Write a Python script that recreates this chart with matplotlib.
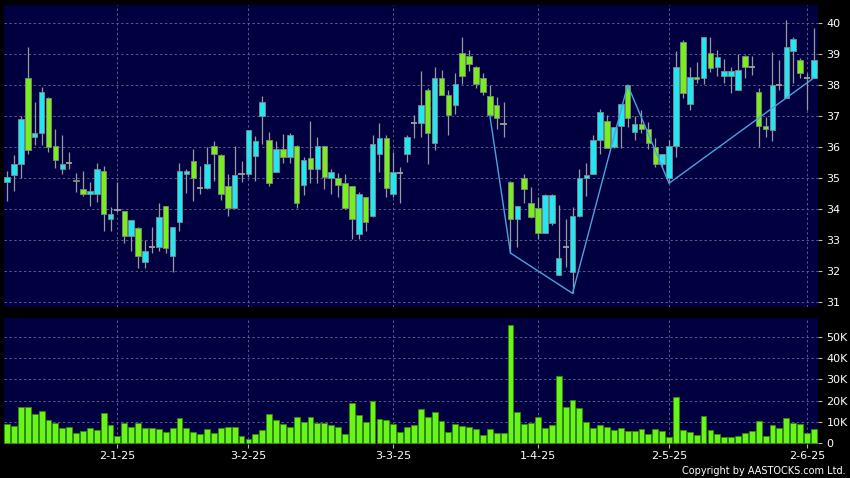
import matplotlib
matplotlib.use("Agg")
import matplotlib.pyplot as plt
import numpy as np

# daily bars, oldest first (price in HKD, volume in thousands)
opens = [34.86, 35.10, 35.45, 38.23, 36.31, 36.45, 37.58, 36.03, 35.29, 35.47,
         34.94, 34.65, 34.48, 34.48, 35.23, 33.68, 33.98, 33.94, 33.13, 33.39,
         32.28, 32.76, 32.76, 34.10, 32.48, 33.59, 35.13, 35.56, 34.67, 34.67,
         36.03, 35.74, 34.74, 34.03, 35.13, 35.13, 35.70, 37.01, 36.23, 35.20,
         35.94, 35.69, 36.02, 34.77, 35.65, 35.29, 36.02, 35.00, 35.00, 34.83,
         34.73, 33.19, 34.38, 33.76, 35.77, 36.29, 34.48, 35.16, 35.77, 36.76,
         36.77, 37.84, 36.13, 38.23, 37.68, 37.35, 39.03, 38.95, 38.59, 38.23,
         37.63, 37.35, 36.74, 34.86, 33.68, 34.99, 34.19, 34.03, 33.23, 33.55,
         31.88, 32.76, 31.96, 33.76, 35.00, 35.13, 36.23, 36.83, 36.01, 36.67,
         38.00, 36.47, 36.74, 36.58, 35.99, 35.45, 34.99, 36.02, 39.38, 37.39,
         38.27, 38.23, 39.02, 38.59, 38.28, 38.28, 37.84, 38.95, 38.57, 37.76,
         36.69, 36.56, 38.00, 37.58, 39.11, 38.81, 38.23, 38.23, 38.68]
highs = [35.24, 35.75, 37.01, 39.22, 37.46, 37.95, 37.60, 36.59, 36.40, 35.85,
         35.15, 35.24, 34.86, 35.48, 35.40, 34.08, 34.88, 33.95, 33.66, 33.41,
         33.00, 33.41, 34.21, 34.11, 33.43, 35.48, 35.29, 35.94, 35.40, 36.01,
         36.20, 35.77, 35.13, 36.02, 35.56, 36.56, 36.34, 37.66, 36.47, 36.20,
         36.42, 36.45, 36.05, 35.67, 36.85, 36.31, 36.03, 35.29, 35.15, 35.13,
         34.75, 34.54, 34.39, 36.39, 36.77, 36.39, 35.83, 35.34, 36.40, 37.03,
         38.46, 37.90, 38.57, 38.49, 37.84, 38.38, 39.56, 39.13, 38.60, 38.38,
         38.00, 37.60, 37.46, 34.90, 34.10, 35.13, 34.70, 34.38, 34.48, 34.48,
         34.14, 33.68, 34.05, 35.29, 35.47, 36.40, 37.23, 37.03, 36.65, 37.40,
         38.00, 37.01, 37.20, 36.80, 36.29, 35.78, 36.23, 39.11, 39.45, 38.57,
         38.75, 39.55, 39.54, 39.13, 38.84, 38.57, 39.00, 38.96, 38.95, 37.90,
         36.96, 39.05, 38.80, 40.11, 39.56, 38.87, 38.38, 39.84, 38.81]
lows = [34.27, 34.57, 35.00, 35.77, 36.08, 36.08, 35.83, 35.31, 35.13, 35.29,
        34.54, 34.43, 34.09, 34.22, 33.30, 33.30, 33.89, 32.92, 32.66, 32.09,
        32.09, 32.58, 32.63, 32.58, 31.96, 33.30, 34.51, 34.27, 34.48, 34.66,
        34.91, 34.29, 33.78, 34.02, 34.86, 35.02, 34.91, 36.10, 34.75, 35.19,
        35.47, 35.50, 34.03, 34.45, 34.83, 34.83, 34.65, 34.48, 34.38, 34.00,
        33.03, 33.03, 33.30, 33.75, 35.18, 34.38, 34.38, 34.19, 35.53, 36.29,
        36.31, 35.45, 35.91, 37.68, 36.39, 37.06, 38.03, 38.46, 37.90, 37.68,
        37.03, 36.58, 36.31, 32.58, 32.76, 34.19, 33.70, 33.03, 33.22, 33.50,
        31.88, 32.12, 31.28, 33.75, 34.43, 35.12, 35.77, 35.96, 35.96, 35.96,
        36.64, 36.23, 36.44, 35.94, 35.34, 35.32, 34.83, 35.67, 37.58, 37.20,
        38.08, 38.03, 38.41, 38.30, 38.08, 37.73, 37.83, 38.23, 38.33, 35.99,
        36.31, 36.20, 37.85, 37.57, 38.08, 38.23, 37.19, 38.22, 38.23]
closes = [35.04, 35.45, 36.90, 35.90, 36.45, 37.77, 36.01, 35.58, 35.45, 35.47,
          34.90, 34.48, 34.57, 35.29, 33.84, 33.84, 33.98, 33.13, 33.65, 32.47,
          32.65, 32.76, 33.74, 32.74, 33.42, 35.23, 35.23, 35.00, 34.67, 35.45,
          35.77, 34.48, 34.03, 35.10, 35.13, 36.55, 36.19, 37.46, 34.83, 35.94,
          35.69, 36.39, 34.19, 35.58, 35.29, 36.02, 35.04, 35.18, 34.78, 34.03,
          33.68, 34.48, 33.59, 36.10, 36.29, 34.67, 35.18, 35.16, 36.31, 36.76,
          37.35, 36.45, 38.23, 37.68, 37.03, 38.03, 38.28, 38.68, 38.03, 37.78,
          37.03, 36.94, 36.74, 33.68, 34.09, 34.65, 33.73, 33.23, 34.45, 34.45,
          32.42, 32.76, 33.78, 34.99, 35.11, 36.23, 37.12, 35.96, 36.63, 37.39,
          36.94, 36.74, 36.58, 36.13, 35.45, 35.77, 36.02, 38.57, 37.74, 38.27,
          38.19, 39.54, 38.55, 38.89, 38.44, 38.44, 38.48, 38.57, 38.57, 36.67,
          36.58, 38.00, 38.00, 39.22, 39.48, 38.39, 38.23, 38.81, 38.55]
volume_k = [8.9, 8.1, 17.2, 17.0, 13.9, 15.2, 10.9, 9.7, 7.2, 7.5,
            4.7, 5.8, 7.2, 6.3, 14.1, 8.4, 3.6, 9.5, 7.8, 9.4,
            7.2, 7.2, 6.7, 5.2, 7.2, 11.7, 7.3, 5.5, 4.2, 6.6,
            4.8, 7.0, 7.7, 7.8, 3.4, 2.0, 4.5, 6.4, 13.6, 10.8,
            9.2, 7.8, 12.2, 10.0, 12.2, 9.4, 9.5, 8.4, 7.7, 4.5,
            18.9, 13.1, 10.2, 20.0, 11.6, 10.9, 8.9, 5.3, 7.7, 8.6,
            16.1, 12.5, 14.7, 10.5, 5.2, 8.9, 8.3, 7.7, 6.7, 4.1,
            6.7, 5.0, 4.8, 55.5, 14.7, 9.1, 9.5, 12.3, 7.3, 8.6,
            31.4, 17.0, 20.3, 16.7, 9.8, 7.0, 8.6, 7.7, 6.4, 7.0,
            5.9, 5.6, 6.7, 4.4, 6.7, 5.6, 3.0, 21.6, 6.1, 5.5,
            3.9, 12.8, 6.1, 4.2, 2.8, 3.0, 3.6, 4.8, 5.9, 10.3,
            3.3, 8.6, 7.0, 11.7, 9.7, 9.1, 4.8, 6.7, 1.3]

# zigzag overlay: bar index and price of each turning point
zigzag_idx = [70, 73, 82, 90, 96, 117]
zigzag_px = [37.03, 32.58, 31.28, 38.00, 34.83, 38.23]

date_idx = [16, 35, 56, 77, 96, 116]
date_labels = ["2-1-25", "3-2-25", "3-3-25", "1-4-25", "2-5-25", "2-6-25"]

price_ticks = [31, 32, 33, 34, 35, 36, 37, 38, 39, 40]
vol_ticks = [0, 10, 20, 30, 40, 50]

BG = "#000040"
GRID = "#5a5a86"
UP = "#22e6f2"
DOWN = "#78ee1e"
VOL = "#6af51a"

o = np.array(opens)
h = np.array(highs)
l = np.array(lows)
c = np.array(closes)
x = np.arange(len(o))

fig = plt.figure(figsize=(8.5, 4.78), dpi=100, facecolor="black")
ax = fig.add_axes([4 / 850, 1 - 307 / 478, 814 / 850, 302 / 478])
ax2 = fig.add_axes([4 / 850, 1 - 444 / 478, 814 / 850, 126 / 478])

for a in (ax, ax2):
    a.set_facecolor(BG)
    for s in a.spines.values():
        s.set_visible(False)
    a.set_xlim(-0.45, 117.6)
    a.set_xticks(date_idx)
    a.grid(True, color=GRID, linestyle=(0, (2.5, 2.5)), linewidth=0.7)
    a.set_axisbelow(True)
    a.yaxis.tick_right()
    a.tick_params(axis="y", direction="out", length=3, width=0.8,
                  color="#bbbbbb", labelcolor="white", labelsize=8, pad=3)

# candles
ax.vlines(x, l, h, color="#9a9a9a", linewidth=0.9, zorder=2)
up = c > o
down = c < o
flat = c == o
ax.bar(x[up], (c - o)[up], bottom=o[up], width=0.8, color=UP,
       edgecolor="#7f8a8a", linewidth=0.6, zorder=3)
ax.bar(x[down], (o - c)[down], bottom=c[down], width=0.8, color=DOWN,
       edgecolor="#7f8a7a", linewidth=0.6, zorder=3)
ax.hlines(c[flat], x[flat] - 0.45, x[flat] + 0.45, color="#a0a0a0",
          linewidth=1.3, zorder=3)
ax.plot(zigzag_idx, zigzag_px, color="#4aa3e0", linewidth=1.0, zorder=4)

ax.set_ylim(30.84, 40.58)
ax.set_yticks(price_ticks)
ax.set_yticklabels([str(t) for t in price_ticks])
ax.tick_params(axis="x", length=0, labelbottom=False)

# volume
ax2.bar(x, volume_k, width=0.85, color=VOL, edgecolor="#2f8a08",
        linewidth=0.6, zorder=3)
ax2.set_ylim(-0.3, 58.7)
ax2.set_yticks(vol_ticks)
ax2.set_yticklabels(["0" if v == 0 else f"{v}K" for v in vol_ticks])
ax2.set_xticklabels(date_labels)
ax2.tick_params(axis="x", direction="out", length=3, width=0.8,
                color="#bbbbbb", labelcolor="white", labelsize=8, pad=2)

fig.text(0.995, 1 - 471 / 478, "Copyright by AASTOCKS.com Ltd.", ha="right",
         va="center", color="white", fontsize=7)

fig.savefig("out.png", dpi=100, facecolor=fig.get_facecolor())
